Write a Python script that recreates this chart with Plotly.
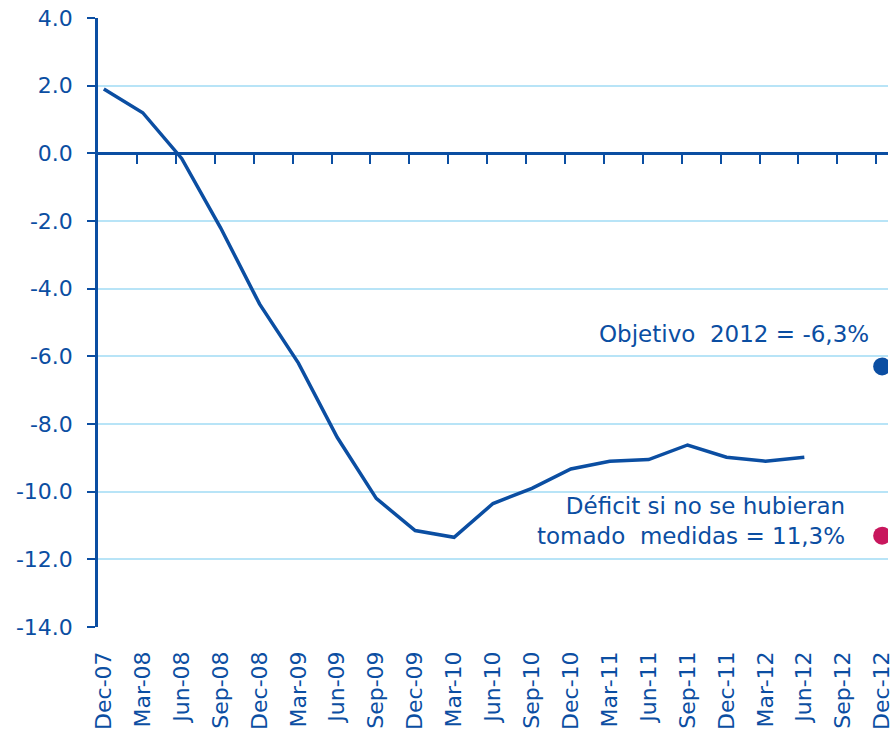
import plotly.graph_objects as go

categories = ["Dec-07", "Mar-08", "Jun-08", "Sep-08", "Dec-08", "Mar-09", "Jun-09",
              "Sep-09", "Dec-09", "Mar-10", "Jun-10", "Sep-10", "Dec-10", "Mar-11",
              "Jun-11", "Sep-11", "Dec-11", "Mar-12", "Jun-12", "Sep-12", "Dec-12"]
deficit = [1.9, 1.2, -0.15, -2.2, -4.45, -6.2, -8.4, -10.2, -11.15, -11.35,
           -10.35, -9.9, -9.33, -9.1, -9.05, -8.62, -8.98, -9.1, -8.98, None, None]
objetivo_label = "Dec-12"
objetivo_value = -6.3
sin_medidas_value = -11.3
y_ticks = [4, 2, 0, -2, -4, -6, -8, -10, -12, -14]

BLUE = "#0b4ea2"
GRID = "#b8e4f7"
FONT = "DejaVu Sans"

fig = go.Figure()
fig.add_trace(go.Scatter(x=categories, y=deficit, mode="lines",
                         line=dict(color=BLUE, width=3.5), connectgaps=False,
                         showlegend=False, hoverinfo="skip"))
fig.add_trace(go.Scatter(x=[objetivo_label], y=[objetivo_value], mode="markers",
                         marker=dict(color="#0b4ea2", size=18), showlegend=False))
fig.add_trace(go.Scatter(x=[objetivo_label], y=[sin_medidas_value], mode="markers",
                         marker=dict(color="#c8175d", size=18), showlegend=False))
# dummy trace to activate xaxis2 (zero-line axis with ticks)
fig.add_trace(go.Scatter(x=[0], y=[None], xaxis="x2", showlegend=False, hoverinfo="skip"))

n = len(categories)
fig.update_layout(
    width=894, height=730,
    margin=dict(l=98, r=6, t=18, b=103, autoexpand=False),
    plot_bgcolor="white", paper_bgcolor="white",
    font=dict(family=FONT, color=BLUE, size=22),
    xaxis=dict(type="category", categoryorder="array", categoryarray=categories,
               range=[-0.15, n - 1 + 0.15], showgrid=False, showline=False,
               zeroline=False, ticks="", tickangle=-90, automargin=False,
               tickfont=dict(family=FONT, size=22, color=BLUE),
               ticklabelstandoff=19),
    xaxis2=dict(overlaying="x", anchor="free", position=14 / 18, side="bottom",
                range=[-0.15, n - 1 + 0.15], showgrid=False, zeroline=False,
                showline=True, linecolor=BLUE, linewidth=2.5, automargin=False,
                tickmode="array", tickvals=[i - 0.15 for i in range(1, n + 1)],
                showticklabels=False, ticks="outside", ticklen=9, tickwidth=2,
                tickcolor=BLUE),
    yaxis=dict(range=[-14, 4], tickvals=y_ticks,
               ticktext=[f"{v:.1f}" for v in y_ticks], automargin=False,
               showgrid=True, gridcolor=GRID, gridwidth=2, zeroline=False,
               showline=True, linecolor=BLUE, linewidth=2.5,
               ticks="outside", ticklen=8, tickwidth=2, tickcolor=BLUE,
               tickfont=dict(family=FONT, size=22, color=BLUE),
               ticklabelstandoff=10),
    annotations=[
        dict(x=0.978, xref="paper", y=-5.35, yref="y", xanchor="right", yanchor="middle",
             text="Objetivo&nbsp;&nbsp;2012 = -6,3%", showarrow=False,
             font=dict(family=FONT, size=23, color=BLUE)),
        dict(x=0.948, xref="paper", y=-10.86, yref="y", xanchor="right", yanchor="middle",
             text="Déficit si no se hubieran<br>tomado&nbsp;&nbsp;medidas = 11,3%",
             showarrow=False, align="right",
             font=dict(family=FONT, size=23, color=BLUE)),
    ],
)

fig.write_html("out.html", config={"displayModeBar": False},
               post_script="document.body.style.margin='0';")
